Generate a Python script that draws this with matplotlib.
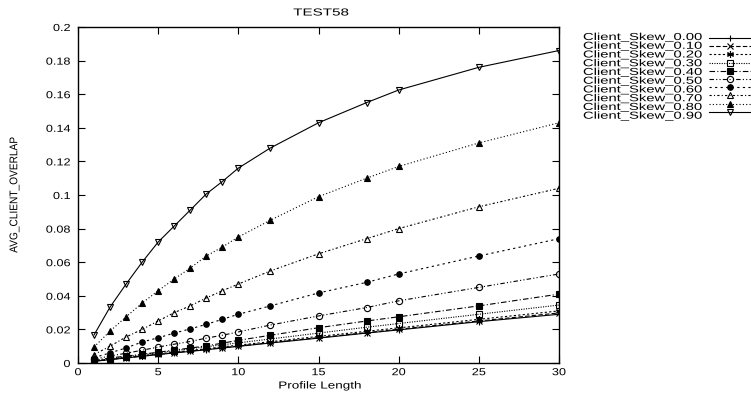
import matplotlib
matplotlib.use("Agg")
import matplotlib.pyplot as plt
from matplotlib.lines import Line2D
from matplotlib.patheffects import AbstractPathEffect
from matplotlib.transforms import Affine2D

plt.rcParams['font.family'] = ['Liberation Sans', 'DejaVu Sans']

profile_length = [1, 2, 3, 4, 5, 6, 7, 8, 9, 10, 12, 15, 18, 20, 25, 30]

labels = ["Client_Skew_0.00", "Client_Skew_0.10", "Client_Skew_0.20", "Client_Skew_0.30",
          "Client_Skew_0.40", "Client_Skew_0.50", "Client_Skew_0.60", "Client_Skew_0.70",
          "Client_Skew_0.80", "Client_Skew_0.90"]

skew_000 = [0.0010, 0.0020, 0.0030, 0.0040, 0.0050, 0.0060, 0.0069, 0.0079, 0.0089, 0.0099, 0.0119, 0.0148, 0.0178, 0.0197, 0.0246, 0.0290]
skew_010 = [0.0010, 0.0021, 0.0031, 0.0041, 0.0051, 0.0061, 0.0071, 0.0081, 0.0091, 0.0101, 0.0121, 0.0151, 0.0181, 0.0201, 0.0250, 0.0298]
skew_020 = [0.0011, 0.0022, 0.0033, 0.0043, 0.0054, 0.0064, 0.0075, 0.0085, 0.0096, 0.0106, 0.0127, 0.0158, 0.0189, 0.0209, 0.0260, 0.0310]
skew_030 = [0.0012, 0.0025, 0.0037, 0.0049, 0.0061, 0.0073, 0.0085, 0.0097, 0.0108, 0.0120, 0.0143, 0.0178, 0.0213, 0.0235, 0.0290, 0.0345]
skew_040 = [0.0015, 0.0030, 0.0041, 0.0052, 0.0064, 0.0077, 0.0089, 0.0102, 0.0118, 0.0135, 0.0165, 0.0210, 0.0250, 0.0275, 0.0340, 0.0410]
skew_050 = [0.0022, 0.0042, 0.0058, 0.0076, 0.0095, 0.0112, 0.0128, 0.0148, 0.0165, 0.0185, 0.0226, 0.0280, 0.0330, 0.0370, 0.0450, 0.0530]
skew_060 = [0.0032, 0.0060, 0.0090, 0.0125, 0.0150, 0.0178, 0.0203, 0.0230, 0.0260, 0.0290, 0.0340, 0.0417, 0.0480, 0.0530, 0.0637, 0.0740]
skew_070 = [0.0050, 0.0100, 0.0155, 0.0200, 0.0250, 0.0300, 0.0340, 0.0387, 0.0430, 0.0470, 0.0548, 0.0650, 0.0740, 0.0800, 0.0930, 0.1040]
skew_080 = [0.0095, 0.0190, 0.0275, 0.0357, 0.0430, 0.0500, 0.0565, 0.0637, 0.0690, 0.0750, 0.0850, 0.0990, 0.1100, 0.1170, 0.1310, 0.1430]
skew_090 = [0.0167, 0.0333, 0.0470, 0.0600, 0.0720, 0.0815, 0.0910, 0.1006, 0.1080, 0.1160, 0.1280, 0.1430, 0.1550, 0.1625, 0.1760, 0.1860]

series = [skew_000, skew_010, skew_020, skew_030, skew_040, skew_050,
          skew_060, skew_070, skew_080, skew_090]

x_ticks = [0, 5, 10, 15, 20, 25, 30]
y_ticks = [0, 0.02, 0.04, 0.06, 0.08, 0.1, 0.12, 0.14, 0.16, 0.18, 0.2]
y_tick_labels = ["0", "0.02", "0.04", "0.06", "0.08", "0.1", "0.12", "0.14", "0.16", "0.18", "0.2"]

styles = [
    dict(ls='-', marker='+', mfc='black', ms=5),
    dict(ls=(0, (4, 2)), marker='x', mfc='black', ms=4),
    dict(ls=(0, (2, 2)), marker=(6, 2, 0), mfc='black', ms=5),
    dict(ls=(0, (1, 1.2)), marker='s', mfc='none', ms=4.5),
    dict(ls=(0, (5, 2, 1, 2)), marker='s', mfc='black', ms=4.5),
    dict(ls=(0, (4, 2, 1, 2, 1, 2)), marker='o', mfc='none', ms=4.5),
    dict(ls=(0, (2, 3)), marker='o', mfc='black', ms=4),
    dict(ls=(0, (2, 2, 1, 2)), marker='^', mfc='none', ms=5),
    dict(ls=(0, (1, 2)), marker='^', mfc='black', ms=4.5),
    dict(ls='-', marker='v', mfc='none', ms=5),
]


class HStretch(AbstractPathEffect):
    """Widen glyphs horizontally (gnuplot-like wide text) around an anchor."""
    def __init__(self, sx, align='center'):
        super().__init__()
        self.sx = sx
        self.align = align

    def draw_path(self, renderer, gc, tpath, affine, rgbFace=None):
        ext = tpath.transformed(affine).get_extents()
        if self.align == 'right':
            x0 = ext.x1
        elif self.align == 'left':
            x0 = ext.x0
        else:
            x0 = 0.5 * (ext.x0 + ext.x1)
        a = affine + Affine2D().translate(-x0, 0).scale(self.sx, 1).translate(x0, 0)
        renderer.draw_path(gc, tpath, a, rgbFace)


FS = 7.3
W, H = 751, 400

fig = plt.figure(figsize=(7.51, 4.0), dpi=100)
ax = fig.add_axes([78/W, 37/H, (559-78)/W, (363-27)/H])

for vals, st in zip(series, styles):
    ax.plot(profile_length, vals, color='black', lw=0.8, ls=st['ls'],
            marker=st['marker'], mfc=st['mfc'], mec='black', ms=st['ms'], mew=0.8)

ax.set_xlim(0, 30)
ax.set_ylim(0, 0.2)
ax.set_xticks(x_ticks)
ax.set_xticklabels([str(t) for t in x_ticks])
ax.set_yticks(y_ticks)
ax.set_yticklabels(y_tick_labels)
ax.tick_params(direction='in', length=5, width=0.8, top=True, right=True,
               labelsize=FS)
ax.tick_params(axis='x', pad=3.0)
ax.tick_params(axis='y', pad=5.5)
for t in ax.get_xticklabels():
    t.set_path_effects([HStretch(1.25, 'center')])
for t in ax.get_yticklabels():
    t.set_path_effects([HStretch(1.25, 'right')])
for sp in ax.spines.values():
    sp.set_linewidth(1.0)

fig.text(321/W, 1 - 12.5/H, "TEST58", ha='center', va='center', fontsize=FS,
         path_effects=[HStretch(1.5, 'center')])
fig.text(320/W, 1 - 388.5/H, "Profile Length", ha='center', va='baseline', fontsize=FS,
         path_effects=[HStretch(1.33, 'center')])
fig.text(14/W, 1 - 195/H, "AVG_CLIENT_OVERLAP", ha='center', va='center',
         rotation=90, fontsize=FS, path_effects=[HStretch(1.1, 'center')])

# legend drawn in gnuplot style (text right-aligned, sample to the right)
first_y = 38.0
dy = 8.2
fig.text(702/W, 1 - (first_y - 6.0)/H, "\n".join(labels), ha='right', va='top',
         multialignment='right', fontsize=FS, linespacing=0.843,
         path_effects=[HStretch(1.46, 'right')])
for i, st in enumerate(styles):
    yy = 1 - (first_y + i * dy) / H
    ln = Line2D([709/W, 730/W, 751/W], [yy, yy, yy], transform=fig.transFigure,
                color='black', lw=0.8, ls=st['ls'], marker=st['marker'],
                mfc=st['mfc'], mec='black', ms=st['ms'], mew=0.8, markevery=[1])
    fig.add_artist(ln)

fig.savefig("out.png", dpi=100)
